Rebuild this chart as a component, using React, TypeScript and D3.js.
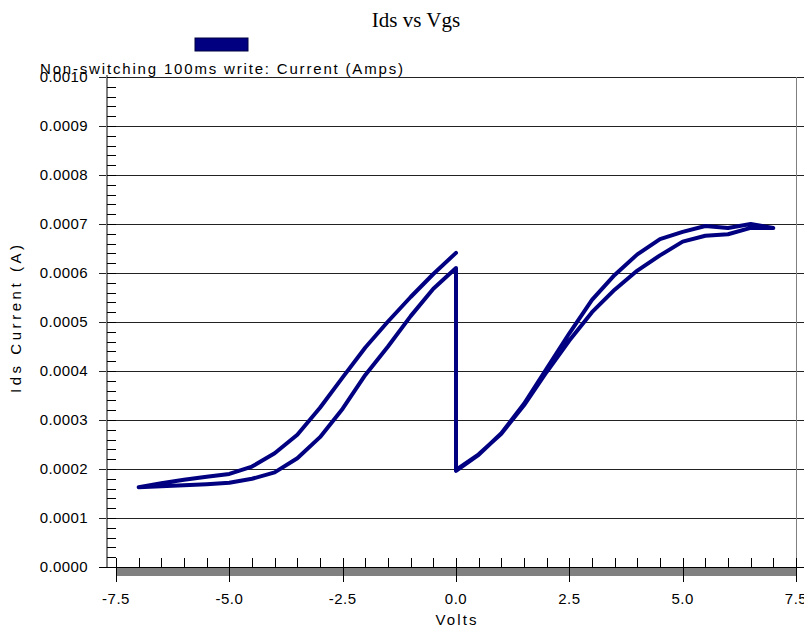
import React from 'react';
import * as d3 from 'd3';

const chartTitle = 'Ids vs Vgs';
const seriesName = 'Non-switching 100ms write: Current (Amps)';
const xLabel = 'Volts';
const yLabel = 'Ids Current (A)';

const xTicks = [-7.5, -5.0, -2.5, 0.0, 2.5, 5.0, 7.5];
const yTicks = [0, 0.0001, 0.0002, 0.0003, 0.0004, 0.0005, 0.0006, 0.0007, 0.0008, 0.0009, 0.001];

// sweep order: 0 -> +7 -> 0, jump, 0 -> -7 -> 0
const volts = [
  0, 0.5, 1, 1.5, 2, 2.5, 3, 3.5, 4, 4.5, 5, 5.5, 6, 6.5, 7,
  6.5, 6, 5.5, 5, 4.5, 4, 3.5, 3, 2.5, 2, 1.5, 1, 0.5, 0,
  0, -0.5, -1, -1.5, -2, -2.5, -3, -3.5, -4, -4.5, -5, -5.5, -6, -6.5, -7,
  -6.5, -6, -5.5, -5, -4.5, -4, -3.5, -3, -2.5, -2, -1.5, -1, -0.5, 0,
];
const amps = [
  0.000198, 0.000230, 0.000272, 0.000330, 0.000398, 0.000462, 0.000520, 0.000566, 0.000605, 0.000636, 0.000664, 0.000676, 0.000679, 0.000692, 0.000692,
  0.000700, 0.000692, 0.000696, 0.000684, 0.000669, 0.000638, 0.000596, 0.000545, 0.000477, 0.000405, 0.000333, 0.000273, 0.000229, 0.000196,
  0.000610, 0.000568, 0.000512, 0.000450, 0.000392, 0.000323, 0.000265, 0.000222, 0.000193, 0.000180, 0.000172, 0.000169, 0.000167, 0.000165, 0.000163,
  0.000171, 0.000178, 0.000184, 0.000190, 0.000205, 0.000232, 0.000270, 0.000325, 0.000387, 0.000448, 0.000501, 0.000551, 0.000598, 0.000641,
];

const SANS = '"Liberation Sans", Arial, sans-serif';
const SERIF = '"Liberation Serif", "Times New Roman", serif';

export default function App() {
  const W = 804;
  const H = 630;
  const x = d3.scaleLinear().domain([-7.5, 7.5]).range([116, 796]);
  const y = d3.scaleLinear().domain([0, 0.001]).range([567, 77]);
  const axisX = 107;
  const x0 = x.range()[0];
  const x1 = x.range()[1];
  const yBase = y(0);
  const yTop = y(0.001);

  const minorX = x.ticks(30);
  const minorY = y.ticks(50);
  const fmtY = (v: number) => v.toFixed(4);
  const fmtX = (v: number) => v.toFixed(1);

  const idx = d3.range(volts.length);
  const line = d3
    .line<number>()
    .x((i) => x(volts[i]))
    .y((i) => y(amps[i]));

  return (
    <svg
      width={W}
      height={H}
      style={{ position: 'absolute', left: 0, top: 0, display: 'block', background: '#fff' }}
    >
      <rect x={0} y={0} width={W} height={H} fill="#fff" />
      {/* title */}
      <text x={416} y={27} textAnchor="middle" fontFamily={SERIF} fontSize={21} fill="#000">
        {chartTitle}
      </text>
      {/* legend */}
      <rect x={195} y={38} width={53} height={13} fill="#000080" stroke="#000040" strokeWidth={1} />

      {/* gridlines */}
      {yTicks.map((t) => (
        <line
          key={'g' + t}
          x1={99}
          x2={W}
          y1={Math.round(y(t)) + 0.5}
          y2={Math.round(y(t)) + 0.5}
          stroke={t === 0 ? '#000' : '#222'}
          strokeWidth={1}
        />
      ))}
      {/* right border */}
      <line x1={x1 + 0.5} x2={x1 + 0.5} y1={yTop} y2={yBase} stroke="#808080" strokeWidth={1} />

      {/* y axis */}
      <line x1={axisX} x2={axisX} y1={yTop - 2} y2={yBase} stroke="#808080" strokeWidth={2} />
      {minorY.map((t) => (
        <line
          key={'my' + t}
          x1={axisX}
          x2={x0}
          y1={Math.round(y(t)) + 0.5}
          y2={Math.round(y(t)) + 0.5}
          stroke="#000"
          strokeWidth={1}
        />
      ))}
      {yTicks.map((t) => (
        <text
          key={'yl' + t}
          x={88}
          y={y(t)}
          dy="0.36em"
          textAnchor="end"
          fontFamily={SANS}
          fontSize={15}
          letterSpacing={0.4}
          fill="#000"
        >
          {fmtY(t)}
        </text>
      ))}
      <text
        transform={`translate(21, 319) rotate(-90)`}
        textAnchor="middle"
        fontFamily={SANS}
        fontSize={15}
        textLength={148}
        lengthAdjust="spacing"
        fill="#000"
      >
        {yLabel}
      </text>

      {/* x axis band */}
      <rect x={x0} y={yBase + 1} width={x1 - x0 + 1} height={8} fill="#808080" />
      {minorX.map((t) => (
        <line
          key={'mx' + t}
          x1={Math.round(x(t)) + 0.5}
          x2={Math.round(x(t)) + 0.5}
          y1={558}
          y2={yBase}
          stroke="#000"
          strokeWidth={1}
        />
      ))}
      {xTicks.map((t) => (
        <line
          key={'Mx' + t}
          x1={Math.round(x(t)) + 0.5}
          x2={Math.round(x(t)) + 0.5}
          y1={558}
          y2={582}
          stroke="#000"
          strokeWidth={1}
        />
      ))}
      {xTicks.map((t) => (
        <text
          key={'xl' + t}
          x={x(t)}
          y={604}
          textAnchor="middle"
          fontFamily={SANS}
          fontSize={15}
          letterSpacing={0.5}
          fill="#000"
        >
          {fmtX(t)}
        </text>
      ))}
      <text
        x={456}
        y={625}
        textAnchor="middle"
        fontFamily={SANS}
        fontSize={15}
        textLength={41}
        lengthAdjust="spacing"
        fill="#000"
      >
        {xLabel}
      </text>

      {/* data */}
      <path
        d={line(idx) || ''}
        fill="none"
        stroke="#000080"
        strokeWidth={4}
        strokeLinejoin="round"
        strokeLinecap="round"
      />

      {/* series label */}
      <text
        x={40}
        y={74}
        fontFamily={SANS}
        fontSize={15}
        textLength={363}
        lengthAdjust="spacing"
        fill="#000"
      >
        {seriesName}
      </text>
    </svg>
  );
}
